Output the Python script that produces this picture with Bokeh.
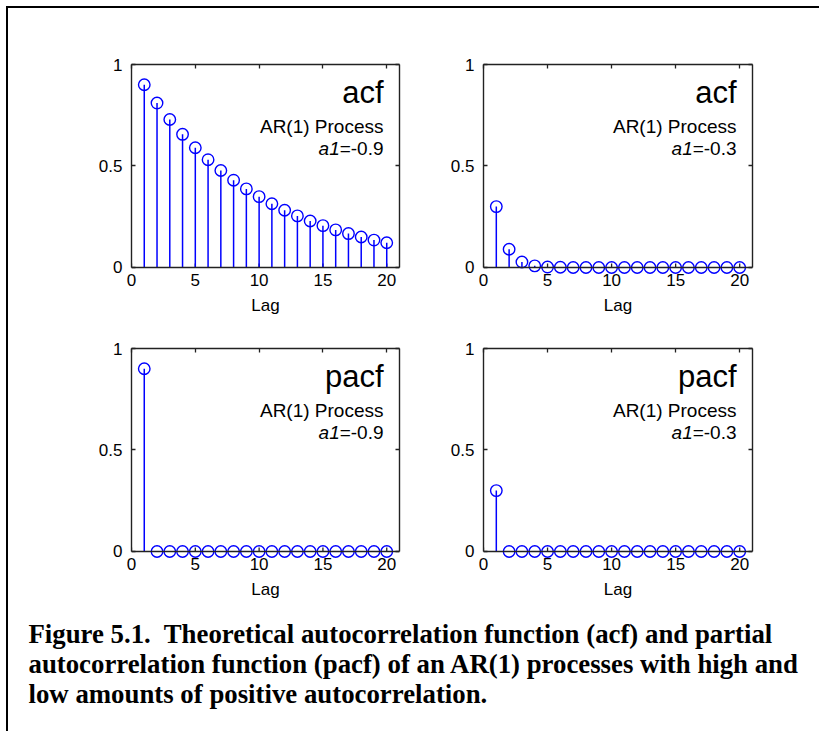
from bokeh.plotting import figure
from bokeh.models import Range1d, LinearAxis, FixedTicker, Label, Span
from bokeh.layouts import column, row
from bokeh.embed import file_html
from bokeh.resources import INLINE

# ---------------- data ----------------
lags = [1, 2, 3, 4, 5, 6, 7, 8, 9, 10, 11, 12, 13, 14, 15, 16, 17, 18, 19, 20]
acf_high = [0.900, 0.810, 0.729, 0.656, 0.590, 0.531, 0.478, 0.430, 0.387, 0.349,
            0.314, 0.282, 0.254, 0.229, 0.206, 0.185, 0.167, 0.150, 0.135, 0.122]
acf_low = [0.300, 0.090, 0.027, 0.008, 0.002, 0.001, 0.000, 0.000, 0.000, 0.000,
           0.000, 0.000, 0.000, 0.000, 0.000, 0.000, 0.000, 0.000, 0.000, 0.000]
pacf_high = [0.9, 0, 0, 0, 0, 0, 0, 0, 0, 0, 0, 0, 0, 0, 0, 0, 0, 0, 0, 0]
pacf_low = [0.3, 0, 0, 0, 0, 0, 0, 0, 0, 0, 0, 0, 0, 0, 0, 0, 0, 0, 0, 0]
x_ticks = [0, 5, 10, 15, 20]
y_ticks = [0, 0.5, 1]
y_tick_labels = ["0", "0.5", "1"]
caption_lines = [
    "Figure 5.1.\u00a0 Theoretical autocorrelation function (acf) and partial",
    "autocorrelation function (pacf) of an AR(1) processes with high and",
    "low amounts of positive autocorrelation.",
]

FONT = "Liberation Sans"
BLUE = "#0000FF"
AX = "#222222"
EXT = 7 / 202.0
TICK = 4 / 202.0


def panel(vals, kind, coef, width, height, ml, mr, mt, mb):
    p = figure(width=width, height=height, x_range=Range1d(0, 21),
               y_range=Range1d(-EXT, 1), output_backend="svg",
               toolbar_location=None, min_border_left=ml, min_border_right=mr,
               min_border_top=mt, min_border_bottom=mb)
    p.outline_line_color = None
    p.grid.visible = False
    p.background_fill_color = "white"
    p.border_fill_color = "white"

    xa = p.xaxis[0]
    xa.ticker = FixedTicker(ticks=x_ticks)
    xa.axis_label = "Lag"
    xa.axis_line_color = None
    xa.major_tick_line_color = None
    xa.minor_tick_line_color = None
    xa.major_tick_in = 0
    xa.major_tick_out = 0

    ya = p.yaxis[0]
    ya.ticker = FixedTicker(ticks=y_ticks)
    ya.major_label_overrides = {t: l for t, l in zip(y_ticks, y_tick_labels)}
    ya.bounds = (0, 1)

    ra = LinearAxis(ticker=FixedTicker(ticks=y_ticks), bounds=(0, 1))
    ta = LinearAxis(ticker=FixedTicker(ticks=x_ticks))
    for a in (ra, ta):
        a.major_label_text_color = None
        a.major_label_standoff = 0
    p.add_layout(ra, "right")
    p.add_layout(ta, "above")

    for a in (ya, ra, ta):
        a.axis_line_color = AX
        a.axis_line_width = 1.4
        a.major_tick_line_color = AX
        a.major_tick_line_width = 1.3
        a.major_tick_in = 4
        a.major_tick_out = 0
        a.minor_tick_line_color = None
    for a in (xa, ya):
        a.major_label_text_font = FONT
        a.major_label_text_font_size = "17px"
        a.major_label_text_color = "black"
    xa.major_label_standoff = -1
    ya.major_label_standoff = 9
    xa.axis_label_text_font = FONT
    xa.axis_label_text_font_size = "17px"
    xa.axis_label_text_font_style = "normal"
    xa.axis_label_text_color = "black"
    xa.axis_label_standoff = 7

    # bottom edge of the box at y = 0, with inward ticks
    p.add_layout(Span(location=0, dimension="width", line_color=AX, line_width=1.4))
    p.segment(x0=x_ticks, y0=[0] * len(x_ticks), x1=x_ticks,
              y1=[TICK] * len(x_ticks), line_color=AX, line_width=1.3)

    p.segment(x0=lags, y0=[0] * len(lags), x1=lags, y1=vals,
              line_color=BLUE, line_width=1.5)
    p.scatter(x=lags, y=vals, marker="circle", size=11.5, fill_color=None,
              line_color=BLUE, line_width=1.4)

    p.add_layout(Label(x=21, y=0.862, x_offset=-16, text=kind, text_align="right",
                       text_baseline="alphabetic", text_font=FONT,
                       text_font_size="31px", text_color="black"))
    p.add_layout(Label(x=21, y=0.694, x_offset=-16, text="AR(1) Process",
                       text_align="right", text_baseline="alphabetic",
                       text_font=FONT, text_font_size="19px", text_color="black"))
    rest = "=-" + coef
    p.add_layout(Label(x=21, y=0.584, x_offset=-16, text=rest,
                       text_align="right", text_baseline="alphabetic",
                       text_font=FONT, text_font_size="19px", text_color="black"))
    p.add_layout(Label(x=21, y=0.584, x_offset=-16 - 43.8, text="a1",
                       text_align="right", text_baseline="alphabetic",
                       text_font=FONT, text_font_size="19px",
                       text_font_style="italic", text_color="black"))
    return p


f1 = panel(acf_high, "acf", "0.9", 433, 326, 123, 42, 56, 60)
f2 = panel(acf_low, "acf", "0.3", 380, 326, 42, 69, 56, 60)
f3 = panel(pacf_high, "pacf", "0.9", 433, 284, 123, 42, 14, 60)
f4 = panel(pacf_low, "pacf", "0.3", 380, 284, 42, 69, 14, 60)

cap = figure(width=813, height=115, x_range=Range1d(0, 813), y_range=Range1d(115, 0),
             output_backend="svg", toolbar_location=None, min_border=0,
             x_axis_type=None, y_axis_type=None)
cap.outline_line_color = None
cap.grid.visible = False
for i, line in enumerate(caption_lines):
    cap.add_layout(Label(x=20, y=15 + 30 * i, text=line, text_align="left",
                         text_baseline="alphabetic", text_font="Liberation Serif",
                         text_font_size="26.8px", text_font_style="bold",
                         text_color="black"))

layout = column(row(f1, f2), row(f3, f4), cap,
                styles={"box-shadow": "-2px -2px 0 0 black",
                        "margin-left": "8px", "margin-top": "8px"})

open("out.html", "w").write(file_html(layout, INLINE))
